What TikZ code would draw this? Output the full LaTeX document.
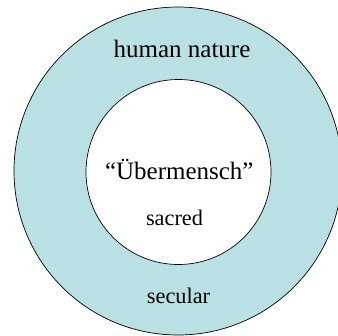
\documentclass[tikz,border=0pt]{standalone}
\usepackage{fontspec}
\setmainfont{Liberation Serif}
\definecolor{ringcyan}{HTML}{B9E0E3}
\tikzset{
  ring/.style={circle, draw=black, line width=0.7bp, inner sep=0pt},
  bigtxt/.style={anchor=base, inner sep=0pt, font=\fontsize{25bp}{30bp}\selectfont},
  smalltxt/.style={anchor=base, inner sep=0pt, font=\fontsize{22.3bp}{27bp}\selectfont},
}
\begin{document}
\begin{tikzpicture}[x=1bp, y=-1bp]
\useasboundingbox (0,0) rectangle (338,336);
\node[ring, fill=ringcyan, minimum size=328bp] (outer) at (178,171) {};
\node[ring, fill=white, minimum size=185bp] (inner) at (178.5,172) {};

\node[bigtxt] (nature) at (182,57.7) {human nature};
\node[bigtxt] (uber) at (179.3,179.3) {``\"Ubermensch''};
\node[smalltxt] (sacred) at (174.5,225.7) {sacred};
\node[smalltxt] (secular) at (178.5,303.3) {secular};
\end{tikzpicture}
\end{document}
